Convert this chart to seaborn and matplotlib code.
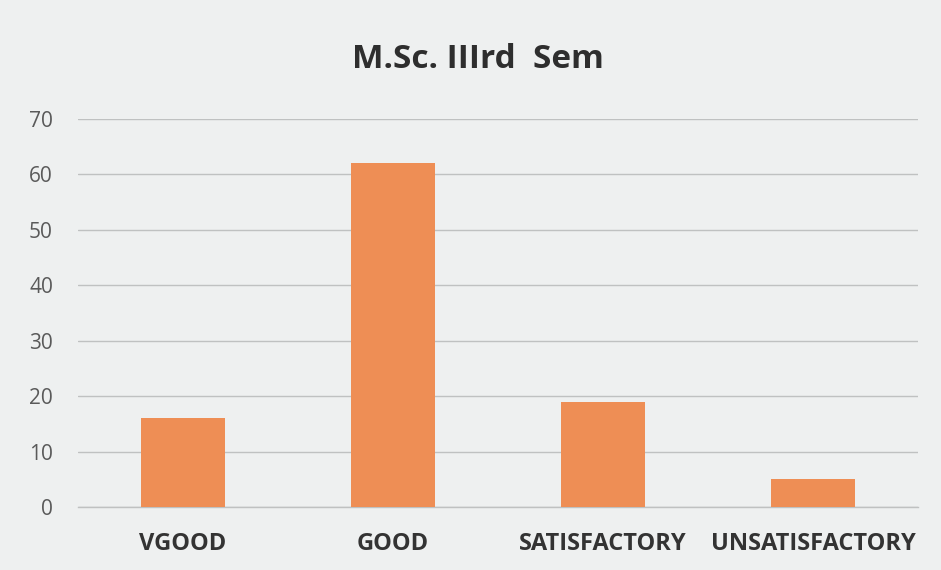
import matplotlib
matplotlib.use("Agg")
import matplotlib.pyplot as plt
import seaborn as sns
import pandas as pd

categories = ["VGOOD", "GOOD", "SATISFACTORY", "UNSATISFACTORY"]
values = [16, 62, 19, 5]
yticks = [0, 10, 20, 30, 40, 50, 60, 70]
title = "M.Sc. IIIrd  Sem"

sns.set_theme(style="white")
plt.rcParams["font.family"] = ["Open Sans", "DejaVu Sans"]

df = pd.DataFrame({"cat": categories, "val": values})

fig = plt.figure(figsize=(9.41, 5.70), dpi=100, facecolor="#eef0f0")
ax = fig.add_axes([78/941, 1 - 507/570, (918-78)/941, (507-119)/570])
ax.set_facecolor("#eef0f0")
sns.barplot(data=df, x="cat", y="val", color="#ee8e55", width=0.4,
            saturation=1, linewidth=0, edgecolor="none", ax=ax, zorder=3)
ax.set_ylim(0, 70)
ax.set_yticks(yticks)
ax.set_xlim(-0.5, 3.5)
ax.yaxis.grid(True, color="#bfc1c1", linewidth=1.0, zorder=0)
ax.set_axisbelow(True)
for s in ["top", "right", "left"]:
    ax.spines[s].set_visible(False)
ax.spines["bottom"].set_color("#bfc1c1")
ax.spines["bottom"].set_linewidth(1.0)
ax.tick_params(axis="y", length=0, pad=18, labelsize=15, labelcolor="#5a5a5a")
ax.tick_params(axis="x", length=0, pad=18, labelsize=17, labelcolor="#333333")
for lbl in ax.get_xticklabels():
    lbl.set_fontweight("bold")
ax.set_xlabel("")
ax.set_ylabel("")
fig.text(478/941, 1 - 60/570, title, ha="center", va="center",
         fontsize=24, fontweight="bold", color="#2e2e2e")

fig.savefig("out.png", dpi=100, facecolor=fig.get_facecolor())
